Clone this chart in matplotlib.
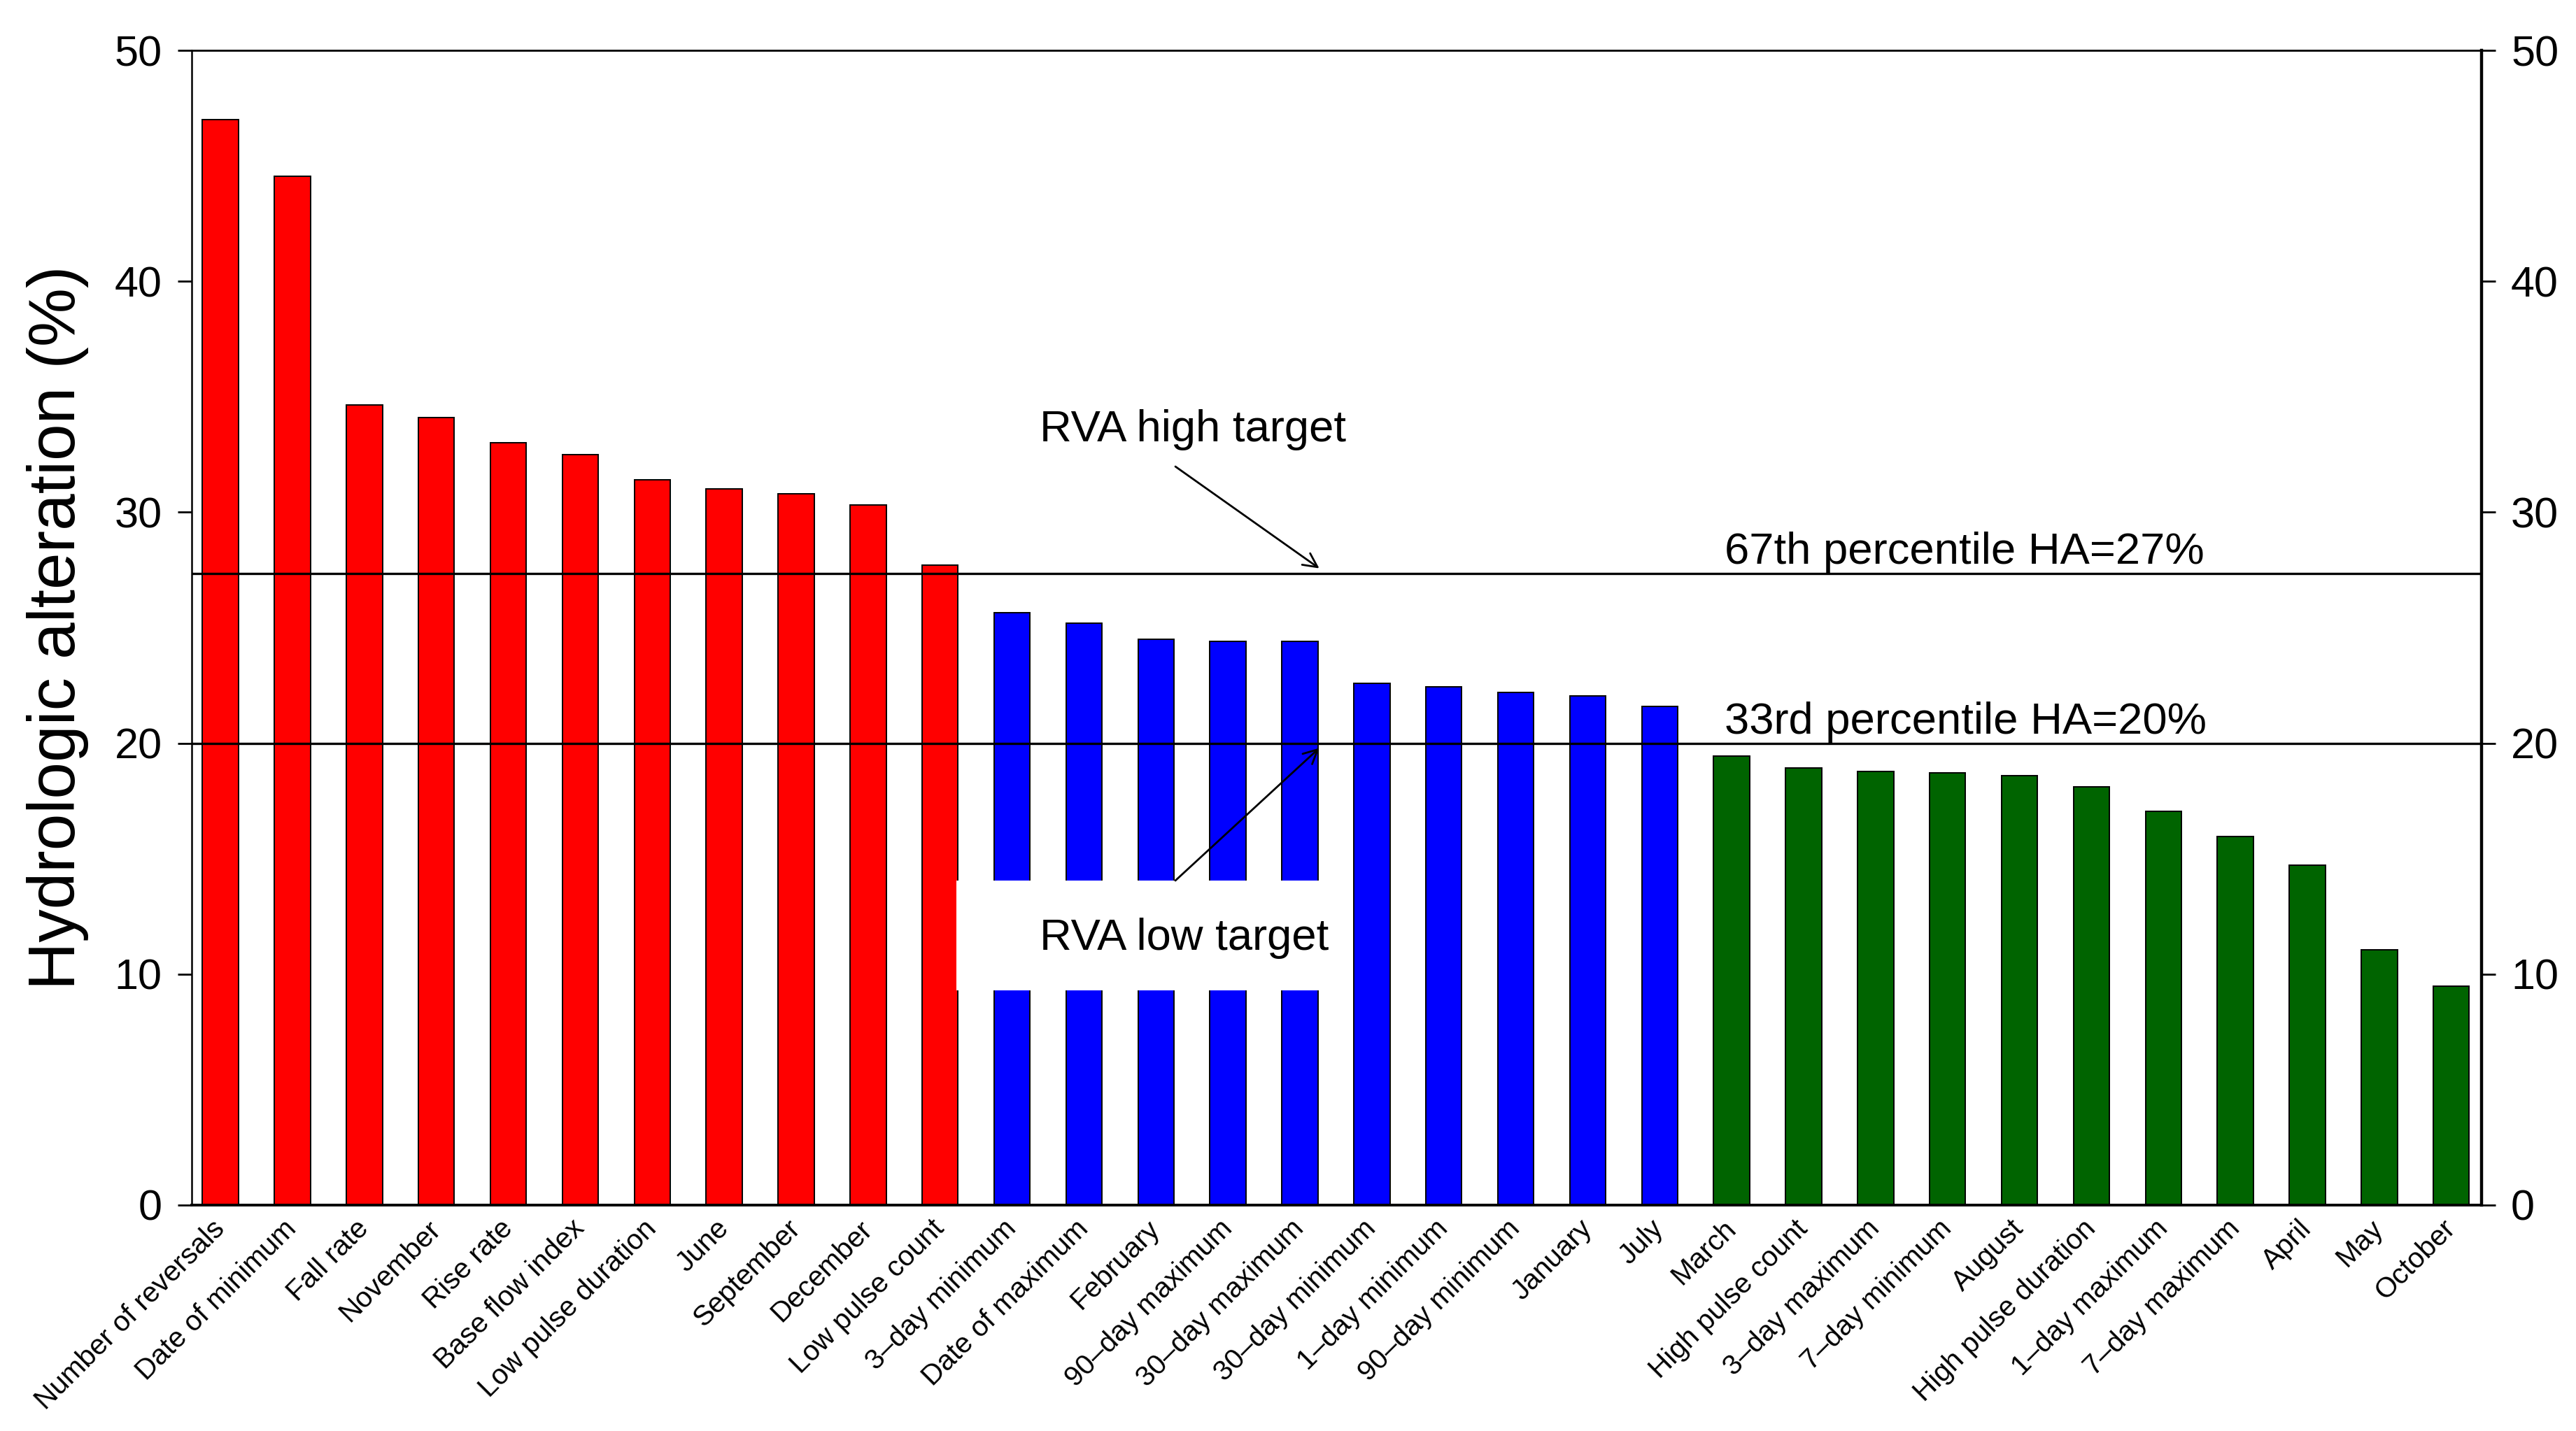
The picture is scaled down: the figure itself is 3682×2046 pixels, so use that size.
import matplotlib
matplotlib.use("Agg")
import matplotlib.pyplot as plt
from matplotlib.patches import Rectangle

categories = [
    "Number of reversals", "Date of minimum", "Fall rate", "November", "Rise rate",
    "Base flow index", "Low pulse duration", "June", "September", "December",
    "Low pulse count", "3\u2013day minimum", "Date of maximum", "February",
    "90\u2013day maximum", "30\u2013day maximum", "30\u2013day minimum",
    "1\u2013day minimum", "90\u2013day minimum", "January", "July", "March",
    "High pulse count", "3\u2013day maximum", "7\u2013day minimum", "August",
    "High pulse duration", "1\u2013day maximum", "7\u2013day maximum", "April",
    "May", "October",
]
values = [
    47.0, 44.55, 34.65, 34.1, 33.0, 32.5, 31.4, 31.0, 30.8, 30.3,
    27.7, 25.65, 25.2, 24.5, 24.4, 24.4, 22.6, 22.45, 22.2, 22.05, 21.6,
    19.45, 18.92, 18.78, 18.72, 18.6, 18.12, 17.06, 15.95, 14.73, 11.04, 9.47,
]
groups = ["high"] * 11 + ["moderate"] * 10 + ["low"] * 11
group_colors = {"high": "#FF0000", "moderate": "#0000FF", "low": "#006400"}

p67 = 27.35
p33 = 20.0
yticks = [0, 10, 20, 30, 40, 50]

fig = plt.figure(figsize=(18.41, 10.23), dpi=200)
ax = fig.add_axes([0.0744, 0.1579, 0.9633 - 0.0744, 0.9648 - 0.1579])

x = list(range(len(categories)))
colors = [group_colors[g] for g in groups]
ax.bar(x, values, width=0.5, color=colors, edgecolor="black", linewidth=0.7, zorder=2)

ax.axhline(p67, color="black", linewidth=1.2, zorder=3)
ax.axhline(p33, color="black", linewidth=1.2, zorder=3)

# white box behind "RVA low target"
ax.add_patch(Rectangle((10.23, 9.31), 15.32 - 10.23, 14.06 - 9.31,
                       facecolor="white", edgecolor="none", zorder=4))

tfont = dict(family="Liberation Sans", fontsize=22.8)
ax.text(11.38, 33.08, "RVA high target", va="baseline", ha="left", zorder=6, **tfont)
ax.text(11.38, 11.05, "RVA low target", va="baseline", ha="left", zorder=6, **tfont)
ax.text(20.9, 27.78, "67th percentile HA=27%", va="baseline", ha="left", zorder=6, **tfont)
ax.text(20.9, 20.42, "33rd percentile HA=20%", va="baseline", ha="left", zorder=6, **tfont)

arrowprops = dict(arrowstyle="->", color="black", lw=1.0, mutation_scale=18,
                  shrinkA=0, shrinkB=0)
ax.annotate("", xy=(15.27, 27.57), xytext=(13.27, 31.98), arrowprops=arrowprops, zorder=6)
ax.annotate("", xy=(15.27, 19.79), xytext=(13.27, 14.05), arrowprops=arrowprops, zorder=6)

ax.set_xlim(-0.40, 31.42)
ax.set_ylim(0, 50)
ax.set_yticks(yticks)
ax.set_yticklabels([str(v) for v in yticks], family="Liberation Sans", fontsize=22)
ax.tick_params(axis="y", which="both", direction="out", length=7.2, width=1.0,
               pad=8, left=True, right=True, labelleft=True, labelright=True)
ax.set_xticks(x)
ax.set_xticklabels(categories, rotation=45, ha="right", va="center",
                   rotation_mode="anchor", family="Liberation Sans", fontsize=14.6)
ax.tick_params(axis="x", length=0, pad=10)

ax.set_ylabel("Hydrologic alteration (%)", family="Liberation Sans", fontsize=34, labelpad=13)

ax.spines["left"].set_linewidth(0.9)
ax.spines["top"].set_linewidth(1.0)
ax.spines["right"].set_linewidth(1.6)
ax.spines["bottom"].set_linewidth(1.4)

fig.savefig("out.png", dpi=200, facecolor="white")
